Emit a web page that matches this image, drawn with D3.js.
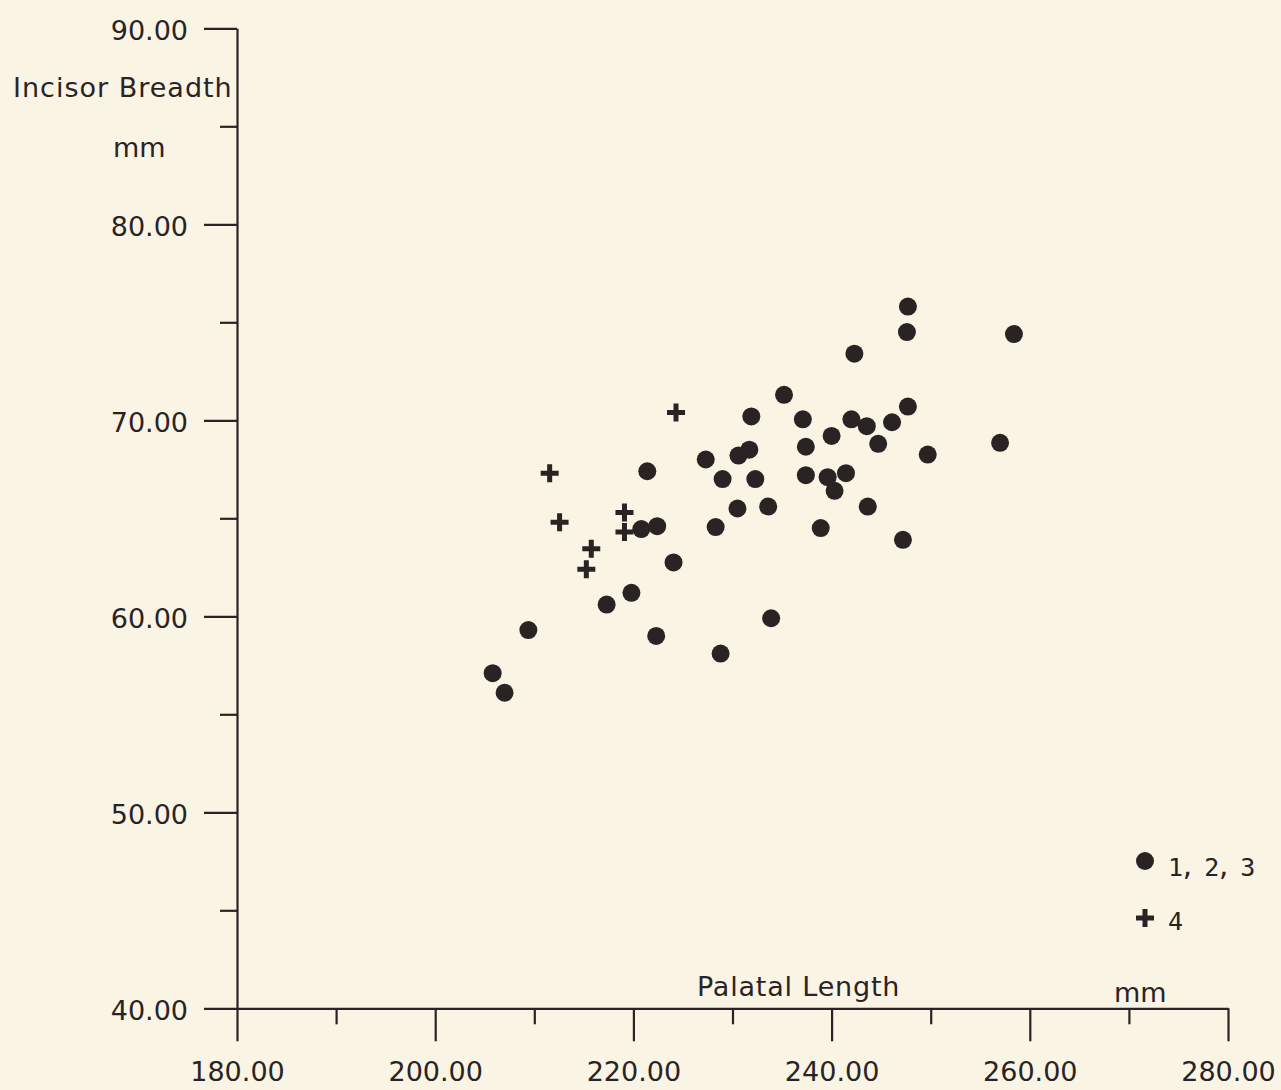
<!DOCTYPE html>
<html>
<head>
<meta charset="utf-8">
<script src="https://cdn.jsdelivr.net/npm/d3@7"></script>
<style>
  html, body { margin: 0; padding: 0; background: #f9f4e4; }
  svg { display: block; }
</style>
</head>
<body>
<svg id="chart" width="1281" height="1090"></svg>
<script>
// ---- data ----
const xMajorTicks = [180, 200, 220, 240, 260, 280];
const xMinorTicks = [190, 210, 230, 250, 270];
const yMajorTicks = [40, 50, 60, 70, 80, 90];
const yMinorTicks = [45, 55, 65, 75, 85];

// Groups 1, 2, 3 (filled circles): palatal length, incisor breadth
const group123X = [205.8, 207.0, 209.4, 217.3, 219.8, 220.8, 222.4, 221.4, 222.3, 224.05,
  227.3, 228.3, 229.0, 228.8, 230.6, 230.5, 231.9, 231.7, 232.3, 233.6,
  233.9, 235.2, 237.1, 237.4, 237.4, 238.9, 240.0, 239.6, 241.45, 240.3,
  242.0, 242.3, 243.55, 243.65, 244.7, 246.1, 247.2, 247.6, 247.7, 247.7,
  249.7, 257.0, 258.4];
const group123Y = [57.1, 56.1, 59.3, 60.6, 61.2, 64.45, 64.6, 67.4, 59.0, 62.75,
  68.0, 64.55, 67.0, 58.1, 68.2, 65.5, 70.2, 68.5, 67.0, 65.6,
  59.9, 71.3, 70.05, 68.65, 67.2, 64.5, 69.2, 67.1, 67.3, 66.4,
  70.05, 73.4, 69.7, 65.6, 68.8, 69.9, 63.9, 74.5, 75.8, 70.7,
  68.25, 68.85, 74.4];

// Group 4 (plus signs)
const group4X = [211.55, 212.55, 215.75, 215.25, 219.1, 219.1, 224.3];
const group4Y = [67.3, 64.8, 63.45, 62.4, 65.3, 64.3, 70.4];

const legendLabels = ["1, 2, 3", "4"];

// ---- drawing ----
const ink = "#2a2324";
const axisFont = "'DejaVu Sans', sans-serif";
const svg = d3.select("#chart");

const x = d3.scaleLinear().domain([180, 280]).range([237, 1228]);
const y = d3.scaleLinear().domain([40, 90]).range([1008.3, 28.3]);

const fmt = d3.format(".2f");

// X axis (major + minor)
const gx = svg.append("g").attr("transform", `translate(0,${y(40)})`);
gx.call(d3.axisBottom(x).tickValues(xMajorTicks).tickSize(33).tickSizeOuter(0)
  .tickPadding(21).tickFormat(fmt));
gx.call(g => g.selectAll(".tick text")
  .attr("font-family", axisFont).attr("font-size", 27).attr("fill", ink));
svg.append("g").attr("transform", `translate(0,${y(40)})`)
  .call(d3.axisBottom(x).tickValues(xMinorTicks).tickSize(16).tickSizeOuter(0).tickFormat(""))
  .call(g => g.select(".domain").remove());

// Y axis (major + minor)
const gy = svg.append("g").attr("transform", `translate(${x(180)},0)`);
gy.call(d3.axisLeft(y).tickValues(yMajorTicks).tickSize(33).tickSizeOuter(0)
  .tickPadding(16).tickFormat(fmt));
gy.call(g => g.selectAll(".tick text")
  .attr("font-family", axisFont).attr("font-size", 27).attr("fill", ink).attr("dy", "0.42em"));
svg.append("g").attr("transform", `translate(${x(180)},0)`)
  .call(d3.axisLeft(y).tickValues(yMinorTicks).tickSize(17).tickSizeOuter(0).tickFormat(""))
  .call(g => g.select(".domain").remove());

svg.selectAll(".domain, .tick line").attr("stroke", ink).attr("stroke-width", 2.2);

// Axis titles
svg.append("text").attr("x", 13).attr("y", 97)
  .attr("font-family", axisFont).attr("font-size", 27).attr("fill", ink)
  .attr("letter-spacing", 1).text("Incisor Breadth");
svg.append("text").attr("x", 113).attr("y", 157)
  .attr("font-family", axisFont).attr("font-size", 27).attr("fill", ink)
  .text("mm");
svg.append("text").attr("x", 697).attr("y", 996)
  .attr("font-family", axisFont).attr("font-size", 27).attr("fill", ink)
  .attr("letter-spacing", 0.8).text("Palatal Length");
svg.append("text").attr("x", 1114).attr("y", 1002)
  .attr("font-family", axisFont).attr("font-size", 27).attr("fill", ink)
  .text("mm");

// Points
const circles = group123X.map((d, i) => ({ x: d, y: group123Y[i] }));
svg.append("g").selectAll("circle").data(circles).join("circle")
  .attr("cx", d => x(d.x)).attr("cy", d => y(d.y)).attr("r", 9)
  .attr("fill", ink);

const plusPath = "M-9,0H9M0,-9V9";
const pluses = group4X.map((d, i) => ({ x: d, y: group4Y[i] }));
svg.append("g").selectAll("path").data(pluses).join("path")
  .attr("transform", d => `translate(${x(d.x)},${y(d.y)})`)
  .attr("d", plusPath).attr("stroke", ink).attr("stroke-width", 5).attr("fill", "none");

// Legend
const legend = svg.append("g");
legend.append("circle").attr("cx", 1145).attr("cy", 861).attr("r", 9).attr("fill", ink);
legend.append("path").attr("transform", "translate(1145,918)").attr("d", plusPath)
  .attr("stroke", ink).attr("stroke-width", 5).attr("fill", "none");
legend.selectAll("text").data(legendLabels).join("text")
  .attr("x", 1168).attr("y", (d, i) => 876 + i * 54)
  .attr("font-family", "'DejaVu Sans Mono', monospace").attr("font-size", 25)
  .attr("letter-spacing", -3).attr("fill", ink)
  .text(d => d);
</script>
</body>
</html>
